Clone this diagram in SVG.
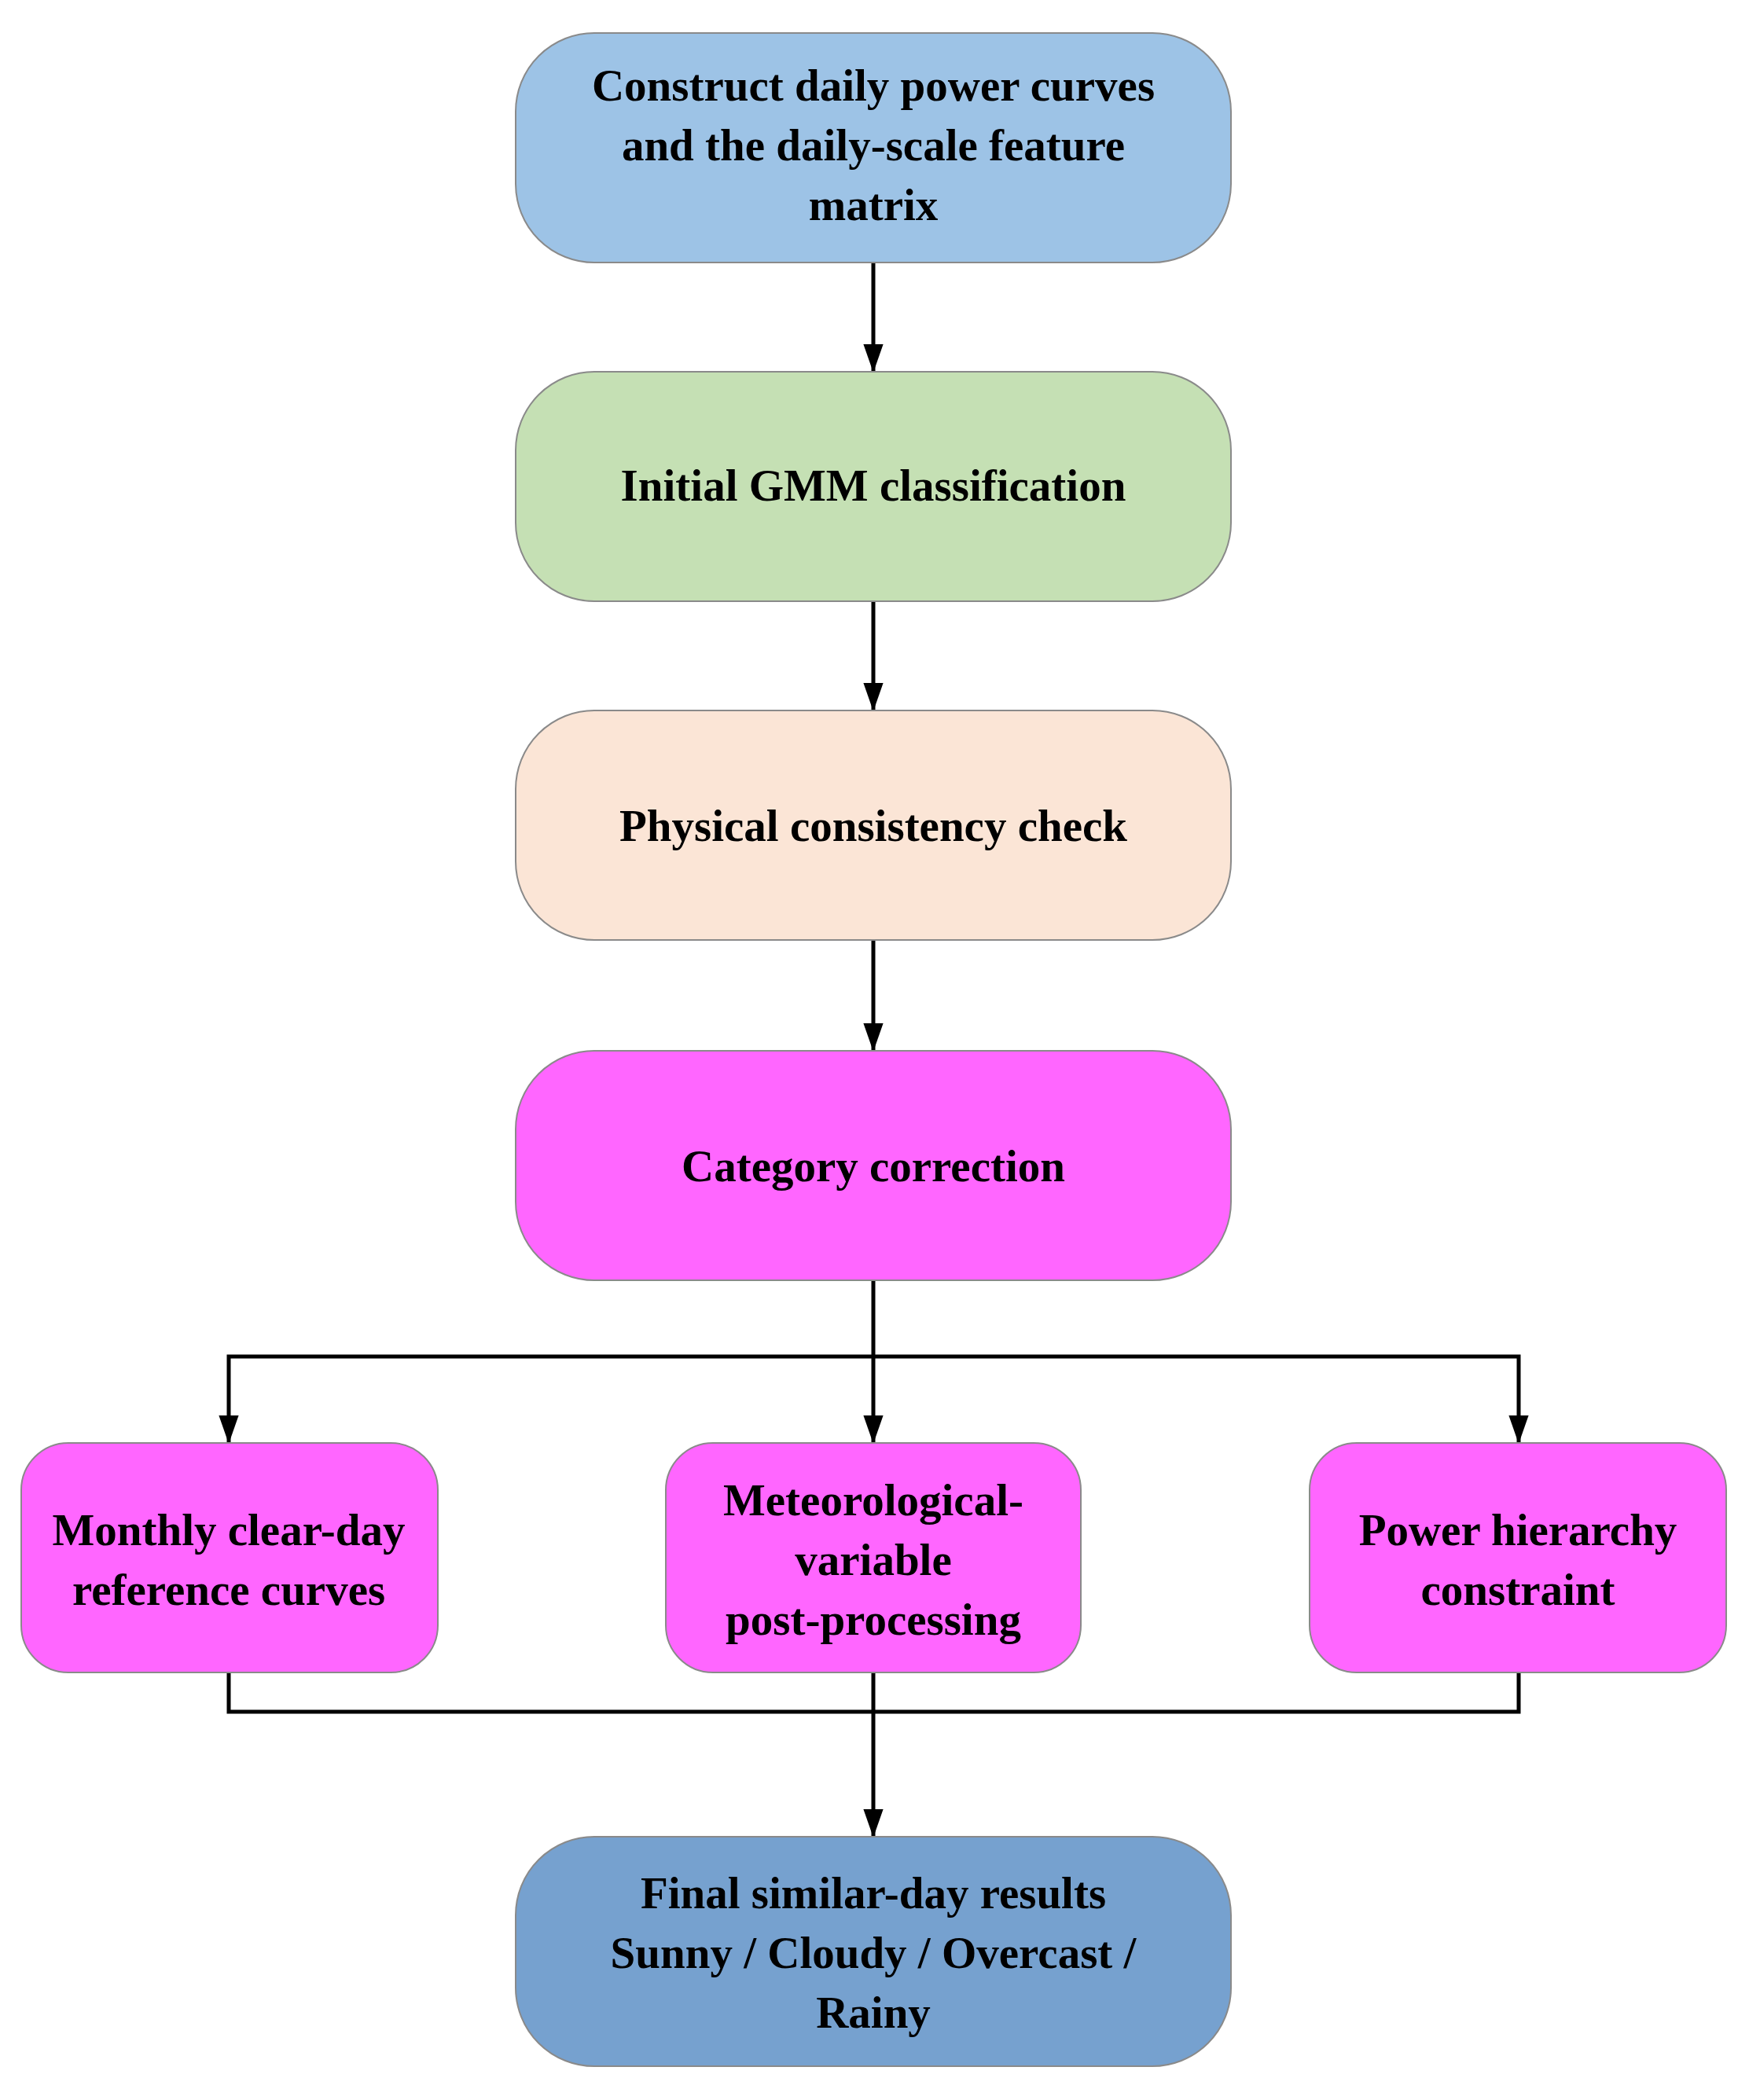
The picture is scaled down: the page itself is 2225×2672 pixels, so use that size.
<svg xmlns="http://www.w3.org/2000/svg" width="2225" height="2672" viewBox="0 0 2225 2672">
<style>
.b{stroke:#8a8a8a;stroke-width:2}
.t{font-family:"Liberation Serif",serif;font-weight:bold;font-size:57px;fill:#000;text-anchor:middle}
.c{stroke:#000;stroke-width:5;fill:none}
</style>
<defs><marker id="a" markerWidth="10" markerHeight="10" refX="9" refY="5" orient="auto" markerUnits="userSpaceOnUse" viewBox="0 0 10 10"><path d="M0,0L10,5L0,10z"/></marker>
<marker id="m" viewBox="0 0 10 10" refX="10" refY="5" markerWidth="36" markerHeight="36" markerUnits="userSpaceOnUse" orient="auto"><path d="M0,1.5L10,5L0,8.5z" fill="#000"/></marker></defs>
<rect width="2225" height="2672" fill="#fff"/>
<g id="connectors">
<path class="c" d="M1111,333V474" marker-end="url(#m)"/>
<path class="c" d="M1111,764V905" marker-end="url(#m)"/>
<path class="c" d="M1111,1195V1338" marker-end="url(#m)"/>
<path class="c" d="M1111,1627V1837" marker-end="url(#m)"/>
<path class="c" d="M1111,1726H291V1837" marker-end="url(#m)"/>
<path class="c" d="M1111,1726H1932V1837" marker-end="url(#m)"/>
<path class="c" d="M291,2126V2178H1932V2126"/>
<path class="c" d="M1111,2126V2338" marker-end="url(#m)"/>
</g>
<g id="n1"><rect class="b" x="656" y="42" width="910" height="292" rx="100" fill="#9dc3e6"/>
<text class="t" x="1111" y="128">Construct daily power curves</text><text class="t" x="1111" y="204">and the daily-scale feature</text><text class="t" x="1111" y="280">matrix</text></g>
<g id="n2"><rect class="b" x="656" y="473" width="910" height="292" rx="100" fill="#c5e0b4"/>
<text class="t" x="1111" y="637">Initial GMM classification</text></g>
<g id="n3"><rect class="b" x="656" y="904" width="910" height="292" rx="100" fill="#fbe5d6"/>
<text class="t" x="1111" y="1070">Physical consistency check</text></g>
<g id="n4"><rect class="b" x="656" y="1337" width="910" height="292" rx="100" fill="#ff66ff"/>
<text class="t" x="1111" y="1503">Category correction</text></g>
<g id="n5"><rect class="b" x="27" y="1836" width="530" height="292" rx="60" fill="#ff66ff"/>
<text class="t" x="291" y="1966">Monthly clear-day</text><text class="t" x="291" y="2042">reference curves</text></g>
<g id="n6"><rect class="b" x="847" y="1836" width="528" height="292" rx="60" fill="#ff66ff"/>
<text class="t" x="1111" y="1928">Meteorological-</text><text class="t" x="1111" y="2004">variable</text><text class="t" x="1111" y="2080">post-processing</text></g>
<g id="n7"><rect class="b" x="1666" y="1836" width="530" height="292" rx="60" fill="#ff66ff"/>
<text class="t" x="1931" y="1966">Power hierarchy</text><text class="t" x="1931" y="2042">constraint</text></g>
<g id="n8"><rect class="b" x="656" y="2337" width="910" height="292" rx="100" fill="#76a1cf"/>
<text class="t" x="1111" y="2428">Final similar-day results</text><text class="t" x="1111" y="2504">Sunny / Cloudy / Overcast /</text><text class="t" x="1111" y="2580">Rainy</text></g>
</svg>
